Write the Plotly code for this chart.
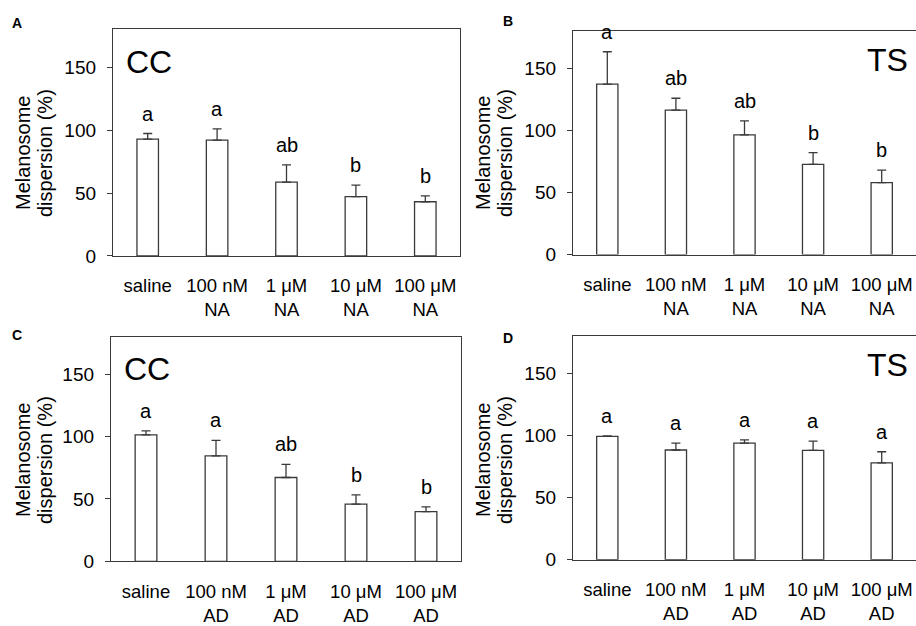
import plotly.graph_objects as go

# ---------------- data ----------------
cats_na = ["saline", "100 nM<br>NA", "1 μM<br>NA", "10 μM<br>NA", "100 μM<br>NA"]
cats_ad = ["saline", "100 nM<br>AD", "1 μM<br>AD", "10 μM<br>AD", "100 μM<br>AD"]

cc_na_mean = [92.9, 92.1, 58.7, 47.2, 43.1]
cc_na_sem = [4.4, 8.9, 13.7, 9.1, 4.7]
cc_na_letters = ["a", "a", "ab", "b", "b"]

ts_na_mean = [137.1, 116.3, 96.3, 72.6, 57.9]
ts_na_sem = [26.1, 9.5, 11.3, 9.5, 10.0]
ts_na_letters = ["a", "ab", "ab", "b", "b"]

cc_ad_mean = [101.3, 84.5, 67.2, 45.9, 39.9]
cc_ad_sem = [3.2, 12.4, 10.5, 7.4, 3.7]
cc_ad_letters = ["a", "a", "ab", "b", "b"]

ts_ad_mean = [99.2, 88.2, 93.7, 87.9, 77.9]
ts_ad_sem = [0.3, 5.5, 2.6, 7.4, 8.9]
ts_ad_letters = ["a", "a", "a", "a", "a"]

y_ticks = [0, 50, 100, 150]
y_title_lines = ["Melanosome", "dispersion (%)"]

# ---------------- styling ----------------
W, H = 916, 626
FONT = "Arial, 'Liberation Sans', sans-serif"
LINE = "#3a3a3a"
FS = 18.5

panels = [
    # (cats, mean, sem, letters, label, tag, tag_side, xdom_px, ydom_px, mirror_y)
    (cats_na, cc_na_mean, cc_na_sem, cc_na_letters, "A", "CC", "left", (113, 460), (261, 30), True),
    (cats_na, ts_na_mean, ts_na_sem, ts_na_letters, "B", "TS", "right", (573, 916), (259.5, 31.5), False),
    (cats_ad, cc_ad_mean, cc_ad_sem, cc_ad_letters, "C", "CC", "left", (111, 461), (572.3, 343.3), True),
    (cats_ad, ts_ad_mean, ts_ad_sem, ts_ad_letters, "D", "TS", "right", (573, 916), (570.7, 342.3), False),
]
label_pos = {"A": (10, 13.5), "B": (501, 11.5), "C": (10, 331.5), "D": (501, 334.5)}

fig = go.Figure()
annotations = []
layout = {}

for i, (cats, mean, sem, letters, label, tag, side, xd, yd, mir) in enumerate(panels):
    n = "" if i == 0 else str(i + 1)
    xa, ya = "x" + n, "y" + n
    fig.add_trace(go.Bar(
        x=cats, y=mean, xaxis=xa, yaxis=ya, width=0.31,
        marker=dict(color="white", line=dict(color=LINE, width=1.3)),
        error_y=dict(type="data", symmetric=False, array=sem,
                     arrayminus=[0] * len(sem), color=LINE, thickness=1.3, width=4.5),
        showlegend=False, hoverinfo="skip",
    ))
    layout["xaxis" + n] = dict(
        domain=[xd[0] / W, xd[1] / W], anchor=ya, type="category",
        showline=True, linecolor=LINE, linewidth=1.3, mirror=True,
        ticks="", showgrid=False, zeroline=False, ticklabelstandoff=13,
        tickfont=dict(size=FS, color="black", family=FONT),
    )
    layout["yaxis" + n] = dict(
        domain=[(H - yd[0]) / H, (H - yd[1]) / H], anchor=xa,
        range=[0, 180], tickvals=y_ticks, ticks="outside", ticklen=5,
        tickcolor=LINE, tickwidth=1.3, ticklabelstandoff=7,
        showline=True, linecolor=LINE, linewidth=1.3, mirror=mir,
        showgrid=False, zeroline=False,
        tickfont=dict(size=19, color="black", family=FONT),
    )
    # significance letters
    for c, m, s, t in zip(cats, mean, sem, letters):
        annotations.append(dict(
            x=c, y=m + s, xref=xa, yref=ya, text=t, showarrow=False,
            yanchor="bottom", xanchor="center", yshift=7,
            font=dict(size=20, color="black", family=FONT),
        ))
    # y title (two lines)
    left = xd[0] < 300
    top = yd[0] < 300
    x0 = 23 if left else 483
    yc = 156 if top else 469
    for k, line in enumerate(y_title_lines):
        annotations.append(dict(
            x=(x0 + 22 * k) / W, y=(H - yc) / H, xref="paper", yref="paper", text=line,
            textangle=-90, showarrow=False, xanchor="center", yanchor="middle",
            font=dict(size=20, color="black", family=FONT),
        ))
    # panel label
    lx, ly = label_pos[label]
    annotations.append(dict(
        x=lx / W, y=(H - ly) / H, xref="paper", yref="paper", text="<b>%s</b>" % label,
        showarrow=False, xanchor="left", yanchor="top",
        font=dict(size=14, color="black", family=FONT),
    ))
    # CC / TS tag
    if side == "left":
        annotations.append(dict(
            x=(xd[0] + 11) / W, y=(H - (yd[1] + 13)) / H, xref="paper", yref="paper",
            text=tag, showarrow=False, xanchor="left", yanchor="top",
            font=dict(size=32, color="black", family=FONT),
        ))
    else:
        annotations.append(dict(
            x=909.5 / W, y=(H - (yd[1] + 9)) / H, xref="paper", yref="paper",
            text=tag, showarrow=False, xanchor="right", yanchor="top",
            font=dict(size=32, color="black", family=FONT),
        ))

fig.update_layout(
    width=W, height=H, margin=dict(l=0, r=0, t=0, b=0),
    paper_bgcolor="white", plot_bgcolor="white",
    font=dict(family=FONT, color="black"),
    annotations=annotations, bargap=0.2,
    **layout,
)

fig.write_html(
    "out.html",
    config={"displayModeBar": False},
    post_script="document.body.style.margin='0';document.body.style.padding='0';",
)
